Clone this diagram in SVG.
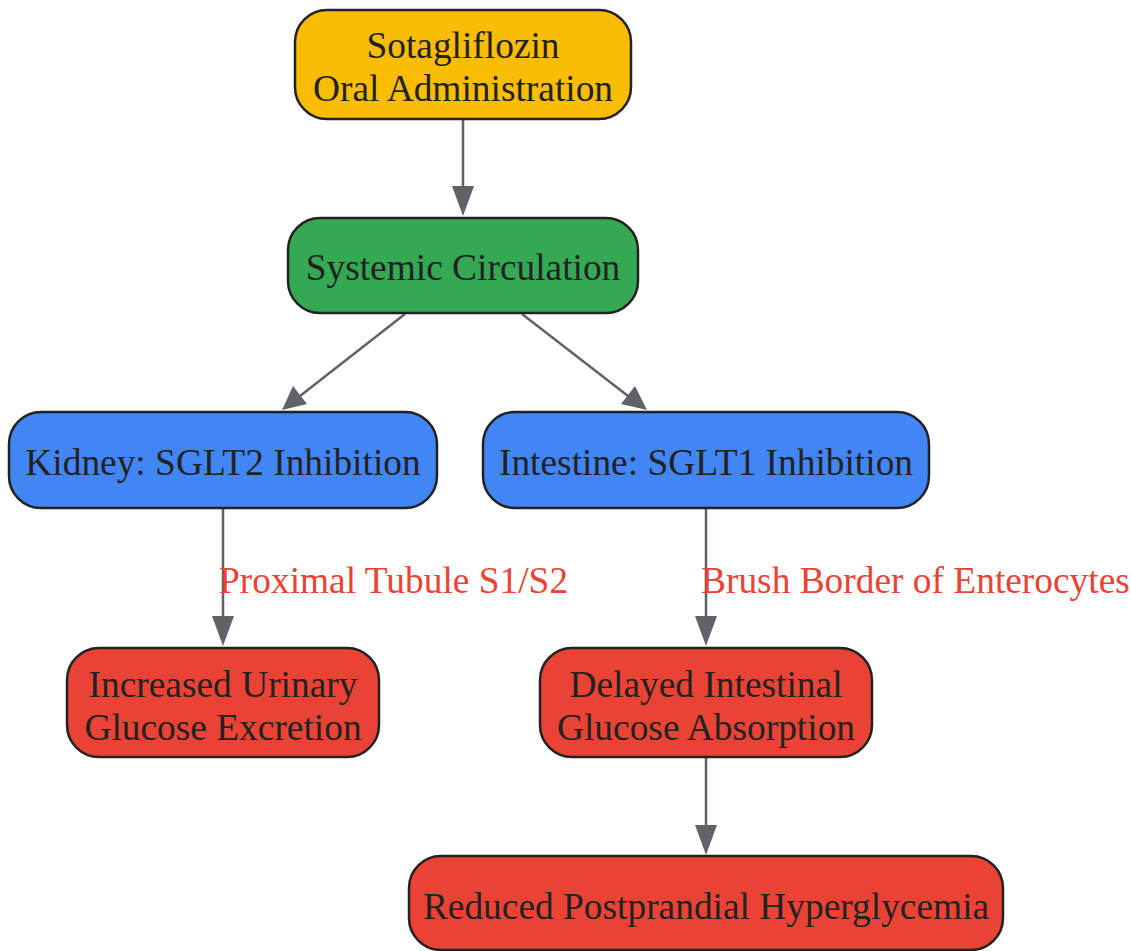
<svg xmlns="http://www.w3.org/2000/svg" width="1131" height="951" viewBox="0 0 1131 951">
<style>
.n{stroke:#222222;stroke-width:2.5}
.t{font-family:"Liberation Serif","Times New Roman",serif;font-size:37.4px;fill:#222222;text-anchor:middle;dominant-baseline:central}
.e{stroke:#5F6368;stroke-width:2.5;fill:none}
.h{fill:#5F6368}
.l{font-family:"Liberation Serif","Times New Roman",serif;font-size:37.4px;fill:#EA4335;dominant-baseline:central}
</style>
<rect width="1131" height="951" fill="#ffffff"/>
<g id="edges">
<line class="e" x1="463" y1="119" x2="463" y2="186"/>
<path class="h" d="M452,186 L474,186 L463,216 Z"/>
<line class="e" x1="405" y1="314" x2="300" y2="396"/>
<path class="h" d="M293,386 L307,404 L282,410 Z"/>
<line class="e" x1="522" y1="314" x2="628" y2="396"/>
<path class="h" d="M621,404 L635,386 L647,410 Z"/>
<line class="e" x1="223" y1="508" x2="223" y2="616"/>
<path class="h" d="M212,616 L234,616 L223,646 Z"/>
<text class="l" x="219" y="580">Proximal Tubule S1/S2</text>
<line class="e" x1="706" y1="508" x2="706" y2="616"/>
<path class="h" d="M695,616 L717,616 L706,646 Z"/>
<text class="l" x="701" y="580">Brush Border of Enterocytes</text>
<line class="e" x1="706" y1="757" x2="706" y2="825"/>
<path class="h" d="M695,825 L717,825 L706,855 Z"/>
</g>
<g id="sotagliflozin">
<rect class="n" x="295" y="10" width="336" height="109" rx="32" fill="#FBBC05"/>
<text class="t" x="463" y="45">Sotagliflozin</text>
<text class="t" x="463" y="88">Oral Administration</text>
</g>
<g id="systemic">
<rect class="n" x="288" y="218" width="350" height="95" rx="32" fill="#34A853"/>
<text class="t" x="463" y="267">Systemic Circulation</text>
</g>
<g id="kidney">
<rect class="n" x="9" y="412" width="428" height="96" rx="32" fill="#4285F4"/>
<text class="t" x="223" y="462">Kidney: SGLT2 Inhibition</text>
</g>
<g id="intestine">
<rect class="n" x="483" y="412" width="446" height="96" rx="32" fill="#4285F4"/>
<text class="t" x="706" y="462">Intestine: SGLT1 Inhibition</text>
</g>
<g id="urinary">
<rect class="n" x="67" y="648" width="312" height="109" rx="32" fill="#EA4335"/>
<text class="t" x="223" y="684">Increased Urinary</text>
<text class="t" x="223" y="727">Glucose Excretion</text>
</g>
<g id="delayed">
<rect class="n" x="540" y="648" width="332" height="109" rx="32" fill="#EA4335"/>
<text class="t" x="706" y="684">Delayed Intestinal</text>
<text class="t" x="706" y="727">Glucose Absorption</text>
</g>
<g id="reduced">
<rect class="n" x="409" y="856" width="594" height="94" rx="32" fill="#EA4335"/>
<text class="t" x="706" y="906">Reduced Postprandial Hyperglycemia</text>
</g>
</svg>
